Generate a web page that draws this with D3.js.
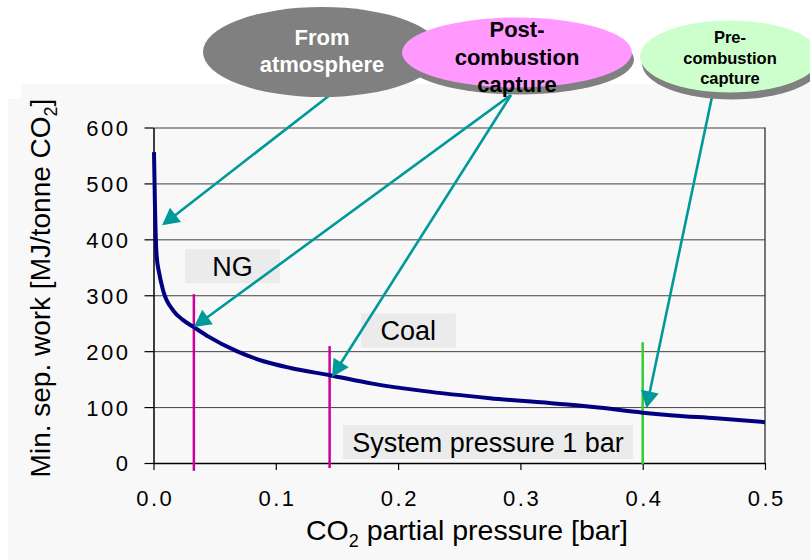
<!DOCTYPE html>
<html>
<head>
<meta charset="utf-8">
<script src="https://cdn.jsdelivr.net/npm/d3@7"></script>
<style>
  html, body { margin: 0; padding: 0; background: #ffffff; }
  svg { display: block; }
  text { font-family: "Liberation Sans", Arial, sans-serif; }
</style>
</head>
<body>
<svg id="chart" width="810" height="560"></svg>
<script>
// ---- data ----
const pressure = [0.0004, 0.0012, 0.0025, 0.0047, 0.0078, 0.016, 0.024, 0.033, 0.045, 0.068, 0.09, 0.112, 0.144, 0.179, 0.22, 0.275, 0.33, 0.36, 0.4, 0.425, 0.46, 0.5];
const minWork  = [556, 460, 372, 339, 309, 273, 256, 243, 226, 200, 182, 170, 157, 142, 129, 116, 106, 100, 90, 85, 80, 73];
const xTicks = [0, 0.1, 0.2, 0.3, 0.4, 0.5];
const xTickLabels = ["0.0", "0.1", "0.2", "0.3", "0.4", "0.5"];
const yTicks = [0, 100, 200, 300, 400, 500, 600];
const markerX = [0.033, 0.144, 0.4];
const markerTop = [302, 209, 216];
const markerBottom = [-14, -9, -2];
const boxLabels = ["NG", "Coal", "System pressure 1 bar"];
const arrowTipX = [0.007, 0.033, 0.146, 0.403];
const arrowTipY = [425, 243, 154, 98];
const bubbleLines = [["From", "atmosphere"], ["Post-", "combustion", "capture"], ["Pre-", "combustion", "capture"]];

// ---- layout ----
const svg = d3.select("#chart");
const x = d3.scaleLinear().domain([0, 0.5]).range([153.5, 765]);
const y = d3.scaleLinear().domain([0, 600]).range([463, 127.5]);
const FONT = '"Liberation Sans", Arial, sans-serif';

// background panel
svg.append("rect").attr("x", 21).attr("y", 84).attr("width", 789).attr("height", 476).attr("fill", "#f8f8f8");
svg.append("rect").attr("x", 8).attr("y", 99).attr("width", 14).attr("height", 461).attr("fill", "#f8f8f8");

// gridlines
svg.append("g")
  .attr("transform", `translate(${x.range()[0]},0)`)
  .call(d3.axisLeft(y).tickValues(yTicks).tickSize(-(x.range()[1] - x.range()[0])).tickFormat(""))
  .call(g => g.select(".domain").remove())
  .call(g => g.selectAll("line").attr("stroke", "#404040").attr("stroke-width", 1));

// right border
svg.append("line").attr("x1", x(0.5)).attr("x2", x(0.5)).attr("y1", y(600)).attr("y2", y(0))
  .attr("stroke", "#202020").attr("stroke-width", 1.2);

// y axis
const yAxis = svg.append("g")
  .attr("transform", `translate(${x(0)},0)`)
  .call(d3.axisLeft(y).tickValues(yTicks).tickSize(9).tickSizeOuter(0).tickPadding(14));
yAxis.select(".domain").attr("stroke", "#000").attr("stroke-width", 1.5);
yAxis.selectAll(".tick line").attr("stroke", "#000").attr("stroke-width", 1.2);
yAxis.selectAll(".tick text").attr("font-family", FONT).attr("font-size", 22)
  .attr("letter-spacing", 2.5).attr("fill", "#000").attr("dy", "0.36em");

// x axis
const xAxis = svg.append("g")
  .attr("transform", `translate(0,${y(0)})`)
  .call(d3.axisBottom(x).tickValues(xTicks).tickSize(7).tickSizeOuter(0).tickPadding(0)
    .tickFormat((d, i) => xTickLabels[i]));
xAxis.select(".domain").attr("stroke", "#000").attr("stroke-width", 1.5);
xAxis.selectAll(".tick line").attr("stroke", "#000").attr("stroke-width", 1.2);
xAxis.selectAll(".tick text").attr("font-family", FONT).attr("font-size", 22)
  .attr("letter-spacing", 2.5).attr("fill", "#000").attr("dy", null).attr("y", 43).attr("dx", 1.25);

// axis titles
const yt = svg.append("text")
  .attr("transform", "translate(50,288) rotate(-90)")
  .attr("text-anchor", "middle").attr("font-size", 28).attr("fill", "#000");
yt.append("tspan").text("Min. sep. work [MJ/tonne CO");
yt.append("tspan").attr("font-size", 18).attr("dy", 7).text("2");
yt.append("tspan").attr("dy", -7).text("]");

const xt = svg.append("text")
  .attr("x", 467).attr("y", 540)
  .attr("text-anchor", "middle").attr("font-size", 28.5).attr("fill", "#000");
xt.append("tspan").text("CO");
xt.append("tspan").attr("font-size", 18).attr("dy", 7).text("2");
xt.append("tspan").attr("dy", -7).text(" partial pressure [bar]");

// label boxes (data coordinates for centre)
const boxCX = [0.0646, 0.2084, 0.2735];
const boxCY = [352, 237, 37.5];
const boxW = [95, 95, 290];
boxLabels.forEach((lab, i) => {
  const cx = x(boxCX[i]), cy = y(boxCY[i]);
  svg.append("rect").attr("x", cx - boxW[i] / 2).attr("y", cy - 17).attr("width", boxW[i]).attr("height", 34)
    .attr("fill", "#ebebeb");
  svg.append("text").attr("x", cx).attr("y", cy + 10).attr("text-anchor", "middle")
    .attr("font-size", 27).attr("fill", "#000").text(lab);
});

// vertical markers
const markerColor = ["#cc0099", "#cc0099", "#33cc33"];
markerX.forEach((mx, i) => {
  svg.append("line").attr("x1", x(mx)).attr("x2", x(mx)).attr("y1", y(markerTop[i])).attr("y2", y(markerBottom[i]))
    .attr("stroke", markerColor[i]).attr("stroke-width", 2.5);
});

// curve
const pts = pressure.map((p, i) => [p, minWork[i]]);
svg.append("path").datum(pts)
  .attr("d", d3.line().x(d => x(d[0])).y(d => y(d[1])).curve(d3.curveMonotoneX))
  .attr("fill", "none").attr("stroke", "#000080").attr("stroke-width", 4).attr("stroke-linejoin", "round");

// arrows
const arrowStart = [[330, 95], [511, 95], [511, 95], [713, 92]];
const teal = "#009999";
arrowTipX.forEach((tx, i) => {
  const [sx, sy] = arrowStart[i];
  const ex = x(tx), ey = y(arrowTipY[i]);
  const dx = ex - sx, dy = ey - sy, len = Math.hypot(dx, dy);
  const ux = dx / len, uy = dy / len;
  const L = 17, hw = 9;
  const bx = ex - ux * L, by = ey - uy * L;
  svg.append("line").attr("x1", sx).attr("y1", sy).attr("x2", bx + ux * 2).attr("y2", by + uy * 2)
    .attr("stroke", teal).attr("stroke-width", 2.6);
  svg.append("path")
    .attr("d", `M${ex},${ey}L${bx - uy * hw},${by + ux * hw}L${bx + uy * hw},${by - ux * hw}Z`)
    .attr("fill", teal);
});

// bubbles
const bubbles = [
  {cx: 322, cy: 52, rx: 119, ry: 45, fill: "#808080", color: "#ffffff", size: 22, base: [45, 72], shadow: false},
  {cx: 517, cy: 52.5, rx: 115, ry: 35, fill: "#ff99ff", color: "#000000", size: 22, base: [37, 65, 92], shadow: true},
  {cx: 730, cy: 56.5, rx: 90, ry: 36, fill: "#ccffcc", color: "#000000", size: 16.5, base: [43, 64, 84], shadow: true}
];
bubbles.forEach((b, i) => {
  if (b.shadow) {
    svg.append("ellipse").attr("cx", b.cx + 2).attr("cy", b.cy + 7).attr("rx", b.rx).attr("ry", b.ry).attr("fill", "#808080");
  }
  svg.append("ellipse").attr("cx", b.cx).attr("cy", b.cy).attr("rx", b.rx).attr("ry", b.ry).attr("fill", b.fill);
  bubbleLines[i].forEach((t, j) => {
    svg.append("text").attr("x", b.cx).attr("y", b.base[j]).attr("text-anchor", "middle")
      .attr("font-size", b.size).attr("font-weight", "bold").attr("fill", b.color).text(t);
  });
});
</script>
</body>
</html>
